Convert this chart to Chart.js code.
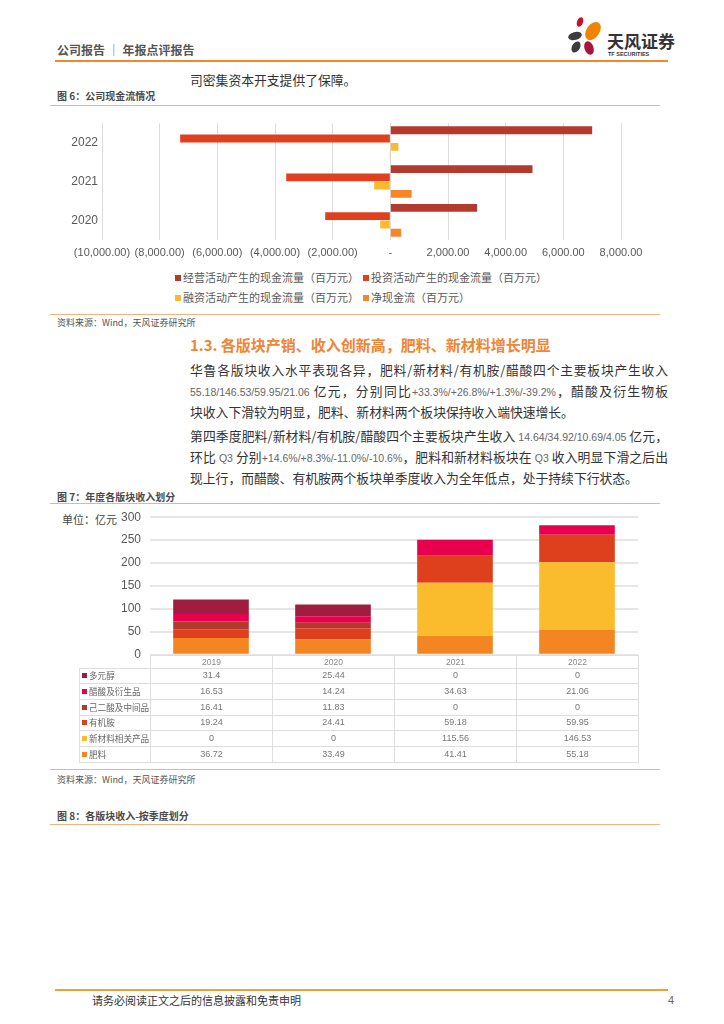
<!DOCTYPE html>
<html lang="zh-CN">
<head>
<meta charset="utf-8">
<title>公司报告 | 年报点评报告</title>
<script src="https://cdn.jsdelivr.net/npm/chart.js@4.4.1/dist/chart.umd.min.js"></script>
<style>
  body { margin: 0; background: #fff; }
  #page { position: relative; width: 724px; height: 1024px; overflow: hidden;
          font-family: "Noto Sans CJK SC", "Noto Sans", sans-serif; color: #333; }
  .abs { position: absolute; white-space: nowrap; }
  .rule { position: absolute; height: 1px; background: #F7B27C; }
  .caption { font-size: 10px; font-weight: bold; color: #4a4a4a; line-height: 14px; }
  .source { font-size: 9px; color: #555; line-height: 12px; }
  .para { position: absolute; left: 190px; width: 478px; font-size: 12.8px; line-height: 21px;
          text-align: justify; text-align-last: justify; white-space: nowrap; }
  .para.last { text-align-last: left; }
  .num { font-family: "Liberation Sans", Arial, sans-serif; color: #666; font-size: 10.5px; }
  .lg { position: absolute; font-size: 11px; color: #595959; line-height: 16px; white-space: nowrap; }
  .lg i { display: inline-block; width: 6px; height: 6px; margin-right: 2px; vertical-align: 1px; }
  canvas { position: absolute; }
  #segTable { position: absolute; left: 79px; top: 655px; border-collapse: collapse; table-layout: fixed;
              font-size: 9px; color: #777; }
  #segTable tr { height: 15.7px; }
  #segTable tr.head { height: 12.5px; }
  #segTable td { border: 1.5px solid #dedede; padding: 0; text-align: center; line-height: 11px;
                 white-space: nowrap; overflow: hidden; }
  #segTable tr.head td { font-family: "Liberation Sans", Arial, sans-serif; color: #888; font-size: 8.5px; line-height: 10px; }
  #segTable td.name { text-align: left; padding-left: 2px; font-size: 8.6px; color: #666; }
  #segTable td.name i { display: inline-block; width: 5px; height: 5px; margin-right: 2px; vertical-align: 1px; }
  #segTable td.val { font-family: "Liberation Sans", Arial, sans-serif; }
</style>
</head>
<body>
<div id="page">
  <!-- header -->
  <div class="abs" style="left:57px; top:42px; font-size:12px; line-height:16px; font-weight:bold; color:#555;">公司报告 │ 年报点评报告</div>
  <svg class="abs" style="left:566px; top:16px;" width="42" height="42" viewBox="0 0 42 42">
    <ellipse cx="14" cy="6" rx="3" ry="5" transform="rotate(20 14 6)" fill="#C8102E"/>
    <ellipse cx="27" cy="15" rx="6.5" ry="10" transform="rotate(35 27 15)" fill="#F08300"/>
    <ellipse cx="9" cy="20" rx="7" ry="4" transform="rotate(-15 9 20)" fill="#3c3c3c"/>
    <ellipse cx="10" cy="31" rx="4" ry="6" transform="rotate(30 10 31)" fill="#3c3c3c"/>
    <ellipse cx="23" cy="32" rx="4.5" ry="7" transform="rotate(-20 23 32)" fill="#A6163A"/>
  </svg>
  <div class="abs" style="left:607px; top:31px; font-size:17px; line-height:20px; font-weight:bold; color:#333;">天风证券</div>
  <div class="abs" style="left:608px; top:51px; font-size:5.5px; line-height:7px; font-weight:bold; color:#333; font-family:'Liberation Sans',Arial,sans-serif;">TF SECURITIES</div>
  <div class="rule" style="left:55px; top:60px; width:613px; height:2px; background:#F08A2C;"></div>

  <div class="abs" style="left:190px; top:70px; font-size:12.8px; line-height:20px;">司密集资本开支提供了保障。</div>
  <div class="abs caption" style="left:57px; top:89px;">图 6：公司现金流情况</div>
  <div class="rule" style="left:50px; top:105px; width:610px;"></div>

  <canvas id="cashChart" width="620" height="155" style="left:50px; top:112px;"></canvas>
  <div id="cashLegend"></div>

  <div class="rule" style="left:50px; top:314px; width:610px;"></div>
  <div class="abs source" style="left:57px; top:317px;">资料来源：Wind，天风证券研究所</div>

  <div class="abs" style="left:190px; top:335px; font-size:15px; line-height:20px; font-weight:bold; color:#EF8535;">1.3. 各版块产销、收入创新高，肥料、新材料增长明显</div>

  <div class="para" style="top:359px;">华鲁各版块收入水平表现各异，肥料/新材料/有机胺/醋酸四个主要板块产生收入</div>
  <div class="para" style="top:380px;"><span class="num">55.18/146.53/59.95/21.06</span> 亿元，分别同比<span class="num">+33.3%/+26.8%/+1.3%/-39.2%</span>，醋酸及衍生物板</div>
  <div class="para last" style="top:401px;">块收入下滑较为明显，肥料、新材料两个板块保持收入端快速增长。</div>

  <div class="para" style="top:425px;">第四季度肥料/新材料/有机胺/醋酸四个主要板块产生收入 <span class="num">14.64/34.92/10.69/4.05</span> 亿元，</div>
  <div class="para" style="top:446px;">环比 <span class="num">Q3</span> 分别<span class="num">+14.6%/+8.3%/-11.0%/-10.6%</span>，肥料和新材料板块在 <span class="num">Q3</span> 收入明显下滑之后出</div>
  <div class="para last" style="top:467px;">现上行，而醋酸、有机胺两个板块单季度收入为全年低点，处于持续下行状态。</div>

  <div class="abs caption" style="left:57px; top:490px;">图 7：年度各版块收入划分</div>
  <div class="rule" style="left:50px; top:503px; width:610px;"></div>

  <div class="abs" style="left:62px; top:512px; font-size:11px; line-height:14px; color:#444;">单位：亿元</div>
  <canvas id="segChart" width="598" height="170" style="left:50px; top:501px;"></canvas>
  <table id="segTable"></table>

  <div class="rule" style="left:50px; top:769px; width:610px;"></div>
  <div class="abs source" style="left:57px; top:774px;">资料来源：Wind，天风证券研究所</div>

  <div class="abs caption" style="left:57px; top:809px;">图 8：各版块收入-按季度划分</div>
  <div class="rule" style="left:50px; top:824px; width:610px;"></div>

  <!-- footer -->
  <div class="rule" style="left:55px; top:989px; width:613px; height:2px; background:#F0A030;"></div>
  <div class="abs" style="left:92px; top:992px; font-size:11px; line-height:16px; color:#333;">请务必阅读正文之后的信息披露和免责申明</div>
  <div class="abs" style="left:668px; top:992px; font-size:11px; line-height:16px; color:#666; font-family:'Liberation Sans',Arial,sans-serif;">4</div>
</div>

<script>
// 图6 现金流（百万元）
const years = ['2020', '2021', '2022'];
const opCash = [3010, 4930, 7000];
const invCash = [-2260, -3610, -7290];
const finCash = [-350, -560, 280];
const netCash = [375, 740, -10];
const cashLabels = ['经营活动产生的现金流量（百万元）', '投资活动产生的现金流量（百万元）',
                    '融资活动产生的现金流量（百万元）', '净现金流（百万元）'];
const cashColors = ['#B43A2D', '#E0401E', '#FBBA2E', '#F5872A'];

// 图7 年度各版块收入（亿元）
const segYears = ['2019', '2020', '2021', '2022'];
const segNames = ['多元醇', '醋酸及衍生品', '己二酸及中间品', '有机胺', '新材料相关产品', '肥料'];
const polyol = [31.4, 25.44, 0, 0];
const acetic = [16.53, 14.24, 34.63, 21.06];
const adipic = [16.41, 11.83, 0, 0];
const amine = [19.24, 24.41, 59.18, 59.95];
const newMat = [0, 0, 115.56, 146.53];
const fert = [36.72, 33.49, 41.41, 55.18];
const segColors = ['#A11D3F', '#E8004E', '#B23A2A', '#DE3F1C', '#FABC2C', '#F38522'];

Chart.defaults.font.family = '"Liberation Sans", Arial, sans-serif';
Chart.defaults.color = '#595959';
Chart.defaults.animation = false;

function fmtMoney(v) {
    if (v === 0) return '-';
    const s = Math.abs(v).toLocaleString('en-US', { minimumFractionDigits: 2, maximumFractionDigits: 2 });
    return v < 0 ? '(' + s + ')' : s;
}

function drawCashChart() {
    const series = [opCash, invCash, finCash, netCash];
    const ctx = document.getElementById('cashChart').getContext('2d');
    new Chart(ctx, {
        type: 'bar',
        data: {
            labels: years,
            datasets: series.map((d, i) => ({
                label: cashLabels[i],
                data: d,
                backgroundColor: cashColors[i],
                categoryPercentage: 0.85,
                barPercentage: 0.94
            }))
        },
        options: {
            indexAxis: 'y',
            responsive: false,
            layout: { padding: { top: 0, right: 49, bottom: 0, left: 0 } },
            plugins: { legend: { display: false }, tooltip: { enabled: false } },
            scales: {
                x: {
                    min: -10000, max: 8000,
                    ticks: { stepSize: 2000, autoSkip: false, maxRotation: 0, padding: 7,
                             font: { size: 11 }, callback: v => fmtMoney(v) },
                    grid: { color: '#dcdcdc', lineWidth: 1, drawTicks: false },
                    border: { display: false }
                },
                y: {
                    reverse: true,
                    afterFit: s => { s.width = 52; },
                    ticks: { padding: 4, font: { size: 12 } },
                    grid: { display: false, drawTicks: false },
                    border: { display: false }
                }
            }
        }
    });

    // legend, two columns like the report
    const box = document.getElementById('cashLegend');
    cashLabels.forEach((name, i) => {
        const el = document.createElement('div');
        el.className = 'lg';
        el.style.left = (175 + (i % 2) * 188) + 'px';
        el.style.top = (269 + Math.floor(i / 2) * 20) + 'px';
        el.innerHTML = `<i style="background:${cashColors[i]}"></i>${name}`;
        box.appendChild(el);
    });
}

function drawSegChart() {
    // bottom to top: 肥料 first
    const stack = [fert, newMat, amine, adipic, acetic, polyol];
    const ctx = document.getElementById('segChart').getContext('2d');
    new Chart(ctx, {
        type: 'bar',
        data: {
            labels: segYears,
            datasets: stack.map((d, i) => ({
                label: segNames[5 - i],
                data: d,
                backgroundColor: segColors[5 - i],
                categoryPercentage: 1,
                barPercentage: 0.62
            }))
        },
        options: {
            responsive: false,
            layout: { padding: { top: 0, right: 10, bottom: 0, left: 0 } },
            plugins: { legend: { display: false }, tooltip: { enabled: false } },
            scales: {
                x: { stacked: true, display: false },
                y: {
                    stacked: true, min: 0, max: 300,
                    afterFit: s => { s.width = 100; },
                    ticks: { stepSize: 50, padding: 9, font: { size: 12 } },
                    grid: { color: '#e6e6e6', lineWidth: 2, drawTicks: false },
                    border: { display: false }
                }
            }
        }
    });

    // data table under the bars
    const rows = [polyol, acetic, adipic, amine, newMat, fert];
    const table = document.getElementById('segTable');
    let html = '<colgroup><col style="width:71px">' + segYears.map(() => '<col style="width:122px">').join('') + '</colgroup>';
    html += '<tr class="head"><td style="border-top:none;border-left:none"></td>' +
            segYears.map(y => `<td>${y}</td>`).join('') + '</tr>';
    rows.forEach((r, i) => {
        html += `<tr><td class="name"><i style="background:${segColors[i]}"></i>${segNames[i]}</td>` +
                r.map(v => `<td class="val">${v}</td>`).join('') + '</tr>';
    });
    table.innerHTML = html;
}

window.onload = function () {
    drawCashChart();
    drawSegChart();
};
</script>
</body>
</html>
